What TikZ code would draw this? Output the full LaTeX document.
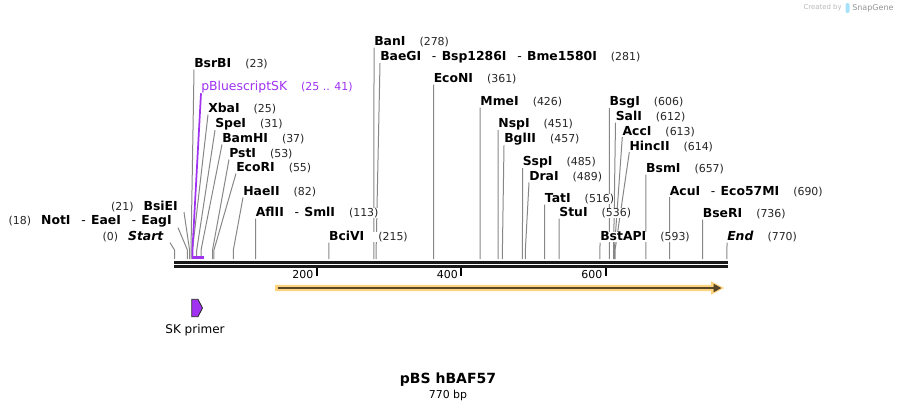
\documentclass[tikz,border=0pt]{standalone}
\usepackage{fontspec}
\setmainfont{DejaVu Sans}
\usetikzlibrary{arrows.meta,backgrounds}

\definecolor{leadgray}{RGB}{135,135,135}
\definecolor{featpurple}{RGB}{160,50,240}
\definecolor{featorange}{RGB}{255,210,125}
\definecolor{featbrown}{RGB}{88,68,38}

\newcommand{\numfont}{\fontsize{8.2}{9.8}\selectfont}
\newcommand{\orsep}{\hspace{8pt}\textnormal{-}\hspace{4pt}}
\newcommand{\rsite}[2]{\textbf{#1}\hspace{10.5pt}{\numfont\color{black!85}(#2)}}
\newcommand{\lsite}[2]{{\numfont\color{black!85}(#2)}\hspace{7.5pt}\textbf{#1}}

\tikzstyle{site_label} = [anchor=west, inner sep=0pt, fill=white, font=\fontsize{9.3}{11}\selectfont]
\tikzstyle{left_label} = [anchor=east, inner xsep=4.5pt, inner ysep=0pt, font=\fontsize{9.3}{11}\selectfont]
\tikzstyle{leader} = [draw=leadgray, line width=0.75pt]
\tikzstyle{strand} = [draw=black!90, line width=1.9pt]

\begin{document}
\begin{tikzpicture}[x=0.75pt, y=-0.75pt]
    \useasboundingbox (0,0) rectangle (902,411);

    % cut positions on the sequence
    \foreach \p in {0,18,21,23,25,31,37,53,55,82,113,215,278,281,361,426,451,457,485,489,516,536,593,606,612,613,614,657,690,736,770}
        \coordinate (c\p) at ({174.5+0.7175*\p},259);

    % sequence
    \draw[strand] (174,262.3) -- (727.5,262.3);
    \draw[strand] (174,266.3) -- (727.5,266.3);
    \foreach \p/\x in {200/316.5, 400/461, 600/605.5} {
        \draw[line width=1.5pt] (\x,267.5) -- (\x,275.5);
        \node (tick\p) [anchor=east, inner sep=0pt, font=\numfont] at (\x-3,274.5) {\p};
    }

    % enzymes, left of the start
    \node (bsiei) [left_label] at (184,206.5) {\lsite{BsiEI}{21}};
    \node (noti)  [left_label] at (178,221.5) {\lsite{NotI\orsep EaeI\orsep EagI}{18}};
    \node (start) [left_label] at (170,237)   {\lsite{\textit{Start}}{0}};

    % enzymes, right of the cut
    \node (bani)   [site_label] at (374.0,42)  {\rsite{BanI}{278}};
    \node (baegi)  [site_label] at (380,57)    {\rsite{BaeGI\orsep Bsp1286I\orsep Bme1580I}{281}};
    \node (bsrbi)  [site_label] at (194,64)    {\rsite{BsrBI}{23}};
    \node (econi)  [site_label] at (433.5,79)  {\rsite{EcoNI}{361}};
    \node (pbs)    [site_label, text=featpurple] at (201,87)
        {pBluescriptSK\hspace{10.5pt}{\numfont(25 .. 41)}};
    \node (mmei)   [site_label] at (480.2,102) {\rsite{MmeI}{426}};
    \node (bsgi)   [site_label] at (609.3,102) {\rsite{BsgI}{606}};
    \node (xbai)   [site_label] at (208,109)   {\rsite{XbaI}{25}};
    \node (sali)   [site_label] at (615.5,117) {\rsite{SalI}{612}};
    \node (spei)   [site_label] at (215,124)   {\rsite{SpeI}{31}};
    \node (nspi)   [site_label] at (498.1,124) {\rsite{NspI}{451}};
    \node (acci)   [site_label] at (622.3,131.5) {\rsite{AccI}{613}};
    \node (bamhi)  [site_label] at (222,139)   {\rsite{BamHI}{37}};
    \node (bglii)  [site_label] at (504,139)   {\rsite{BglII}{457}};
    \node (hincii) [site_label] at (629.3,146.5) {\rsite{HincII}{614}};
    \node (psti)   [site_label] at (229,154)   {\rsite{PstI}{53}};
    \node (sspi)   [site_label] at (522.5,162) {\rsite{SspI}{485}};
    \node (ecori)  [site_label] at (236,168)   {\rsite{EcoRI}{55}};
    \node (bsmi)   [site_label] at (645.9,169) {\rsite{BsmI}{657}};
    \node (drai)   [site_label] at (529,177)   {\rsite{DraI}{489}};
    \node (acui)   [site_label] at (669.6,191.5) {\rsite{AcuI\orsep Eco57MI}{690}};
    \node (haeii)  [site_label] at (243,192)   {\rsite{HaeII}{82}};
    \node (tati)   [site_label] at (544.7,199) {\rsite{TatI}{516}};
    \node (aflii)  [site_label] at (255.6,213) {\rsite{AflII\orsep SmlI}{113}};
    \node (stui)   [site_label] at (559.1,213) {\rsite{StuI}{536}};
    \node (bseri)  [site_label] at (702.6,214) {\rsite{BseRI}{736}};
    \node (bcivi)  [site_label] at (328.8,237) {\rsite{BciVI}{215}};
    \node (bstapi) [site_label] at (600.0,237) {\rsite{BstAPI}{593}};
    \node (seqend) [site_label] at (727,237)   {\rsite{\textit{End}}{770}};

    \begin{scope}[on background layer]
        \foreach \c/\n in {c21/bsiei, c18/noti, c0/start}
            \draw[leader] (\c) -- ++(0,-9) -- (\n.south east);
        \foreach \c/\n in {c278/bani, c281/baegi, c23/bsrbi, c361/econi, c426/mmei,
                           c606/bsgi, c25/xbai, c612/sali, c31/spei, c451/nspi,
                           c613/acci, c37/bamhi, c457/bglii, c614/hincii, c53/psti,
                           c485/sspi, c55/ecori, c657/bsmi, c489/drai, c690/acui,
                           c82/haeii, c516/tati, c113/aflii, c536/stui, c736/bseri,
                           c215/bcivi, c593/bstapi, c770/seqend}
            \draw[leader] (\c) -- ++(0,-9) -- (\n.south west);
    \end{scope}

    % pBluescriptSK region
    \draw[featpurple, line width=1.3pt] (c25) ++(0,-1.4) -- ++(0,-7.6) -- (pbs.south west);
    \draw[featpurple, line width=2pt] (191.8,257.6) -- (203.9,257.6);

    % feature arrow
    \fill[featorange] (275,284.8) -- (711,284.8) -- (711,281.2) -- (724,288)
        -- (711,294.8) -- (711,291.2) -- (275,291.2) -- cycle;
    \draw[featbrown, line width=1.7pt, -{Triangle[length=6pt,width=6pt]}] (277.5,288) -- (721.5,288);

    % SK primer
    \draw[fill=featpurple, draw=black!85, line width=0.6pt]
        (191.8,299.3) -- (198,299.3) -- (202.5,308) -- (198,316.7) -- (191.8,316.7) -- cycle;
    \node (skprimer) [font=\fontsize{9}{10.8}\selectfont] at (195,330) {SK primer};

    % title
    \node (title) [font=\fontsize{10.5}{12}\selectfont\bfseries] at (448,380) {pBS hBAF57};
    \node (length) [font=\numfont] at (448,395.5) {770 bp};

    % credit
    \node (credit) [anchor=east, inner sep=0pt, text=black!28, font=\fontsize{5.2}{6}\selectfont] at (842,8) {Created by};
    \fill[cyan!35, rounded corners=1pt] (845.5,3) rectangle (849.5,13);
    \node (snapgene) [anchor=west, inner sep=0pt, text=black!42, font=\fontsize{6}{7}\selectfont] at (852,8) {SnapGene};
\end{tikzpicture}
\end{document}
